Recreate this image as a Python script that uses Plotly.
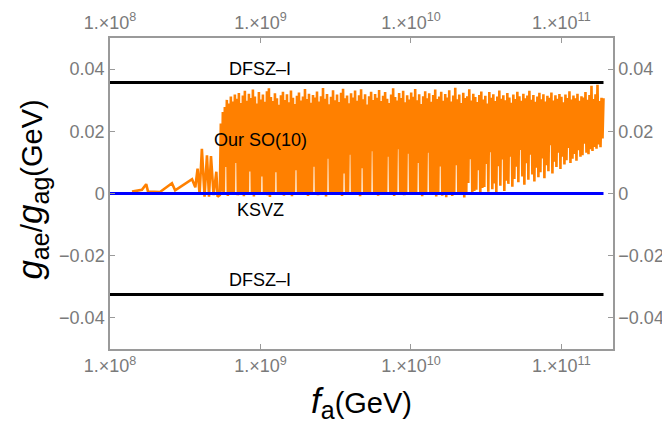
import numpy as np
import plotly.graph_objects as go

# ---------------- data ----------------
# sparse beginning of the scan
fa_early = [1.40e8, 1.63e8, 1.74e8, 1.79e8, 2.15e8, 2.58e8, 2.71e8, 3.51e8, 3.69e8,
            3.82e8, 3.94e8, 4.08e8, 4.25e8, 4.41e8, 4.55e8, 4.69e8, 4.88e8, 5.09e8, 5.19e8]
ratio_early = [0.0006, 0.0012, 0.0030, 0.0006, 0.0005, 0.0033, 0.0010, 0.0046, 0.0020,
               0.0080, -0.0003, 0.0144, -0.0010, 0.0123, -0.0010, 0.0120, -0.0005, 0.0070, -0.0010]

# dense part of the scan (alternating low / high samples)
fa_dense_start = 5.37e8
fa_dense_end = 1.905e11
ratio_dense_low = [
    -0.0005, 0.0006, 0.0002, 0.0085, -0.0008, 0.0001, 0.0003, -0.0004, 0.0098, -0.0006, 0.0002, 0.0001, -0.0009, 0.0005, 0.0000, 0.0071,
    0.0003, -0.0010, 0.0002, 0.0001, -0.0004, 0.0055, 0.0002, 0.0000, -0.0006, -0.0011, 0.0004, 0.0001, 0.0068, -0.0003, 0.0002, 0.0000,
    -0.0007, 0.0001, 0.0002, 0.0003, -0.0009, 0.0000, 0.0075, 0.0002, -0.0005, 0.0001, 0.0001, -0.0002, -0.0008, 0.0004, 0.0000, 0.0086,
    0.0002, -0.0006, 0.0001, 0.0000, 0.0003, -0.0010, 0.0112, 0.0000, -0.0002, -0.0004, 0.0002, 0.0001, 0.0001, -0.0008, 0.0064, 0.0003,
    0.0000, 0.0125, -0.0005, 0.0002, -0.0001, 0.0001, -0.0009, 0.0081, 0.0003, 0.0000, -0.0003, 0.0001, 0.0136, 0.0000, 0.0002, -0.0007,
    0.0002, 0.0001, 0.0001, -0.0004, 0.0118, 0.0003, 0.0000, -0.0008, 0.0000, 0.0142, 0.0002, -0.0002, -0.0006, 0.0001, 0.0128, 0.0004,
    -0.0005, 0.0002, 0.0000, 0.0098, 0.0002, -0.0009, 0.0001, 0.0001, 0.0131, -0.0004, 0.0003, -0.0001, -0.0010, 0.0001, 0.0087, -0.0007,
    0.0002, -0.0012, 0.0003, 0.0000, -0.0008, 0.0001, 0.0091, -0.0004, 0.0003, 0.0000, -0.0013, 0.0001, 0.0034, 0.0110, 0.0000, 0.0008,
    0.0012, 0.0075, -0.0002, 0.0018, 0.0021, 0.0095, 0.0006, 0.0133, 0.0014, 0.0032, 0.0003, 0.0088, 0.0025, 0.0109, 0.0008, 0.0041,
    0.0031, 0.0118, 0.0022, 0.0047, 0.0086, 0.0036, 0.0140, 0.0055, 0.0028, 0.0097, 0.0044, 0.0125, 0.0061, 0.0039, 0.0083, 0.0052,
    0.0068, 0.0113, 0.0049, 0.0091, 0.0072, 0.0155, 0.0064, 0.0102, 0.0085, 0.0131, 0.0079, 0.0118, 0.0093, 0.0107, 0.0146, 0.0098,
    0.0112, 0.0127, 0.0105, 0.0139, 0.0118, 0.0123, 0.0160, 0.0131, 0.0126, 0.0142, 0.0137, 0.0150, 0.0144, 0.0158, 0.0149, 0.0177,
]
ratio_dense_high = [
    0.0225, 0.0262, 0.0278, 0.0301, 0.0289, 0.0312, 0.0296, 0.0318, 0.0305, 0.0323, 0.0291, 0.0315, 0.0330, 0.0298, 0.0321, 0.0307,
    0.0334, 0.0312, 0.0289, 0.0326, 0.0302, 0.0318, 0.0295, 0.0329, 0.0338, 0.0310, 0.0297, 0.0322, 0.0306, 0.0285, 0.0316, 0.0327,
    0.0301, 0.0319, 0.0293, 0.0331, 0.0308, 0.0288, 0.0314, 0.0325, 0.0299, 0.0312, 0.0336, 0.0304, 0.0321, 0.0292, 0.0317, 0.0309,
    0.0328, 0.0296, 0.0313, 0.0339, 0.0305, 0.0320, 0.0287, 0.0311, 0.0332, 0.0300, 0.0318, 0.0294, 0.0324, 0.0337, 0.0306, 0.0315,
    0.0290, 0.0322, 0.0309, 0.0331, 0.0298, 0.0316, 0.0335, 0.0303, 0.0319, 0.0286, 0.0313, 0.0327, 0.0301, 0.0320, 0.0308, 0.0333,
    0.0297, 0.0314, 0.0326, 0.0305, 0.0291, 0.0318, 0.0338, 0.0310, 0.0299, 0.0323, 0.0307, 0.0330, 0.0293, 0.0316, 0.0302, 0.0325,
    0.0311, 0.0336, 0.0300, 0.0319, 0.0288, 0.0313, 0.0329, 0.0306, 0.0322, 0.0295, 0.0317, 0.0334, 0.0304, 0.0312, 0.0327, 0.0298,
    0.0320, 0.0309, 0.0332, 0.0296, 0.0315, 0.0340, 0.0303, 0.0318, 0.0291, 0.0324, 0.0307, 0.0313, 0.0335, 0.0299, 0.0321, 0.0310,
    0.0294, 0.0317, 0.0328, 0.0302, 0.0314, 0.0289, 0.0326, 0.0308, 0.0319, 0.0297, 0.0312, 0.0331, 0.0305, 0.0316, 0.0300, 0.0323,
    0.0309, 0.0292, 0.0318, 0.0304, 0.0327, 0.0313, 0.0298, 0.0321, 0.0306, 0.0315, 0.0330, 0.0301, 0.0317, 0.0295, 0.0312, 0.0324,
    0.0303, 0.0319, 0.0296, 0.0314, 0.0308, 0.0325, 0.0299, 0.0316, 0.0305, 0.0320, 0.0311, 0.0293, 0.0318, 0.0307, 0.0329, 0.0302,
    0.0315, 0.0306, 0.0321, 0.0298, 0.0313, 0.0309, 0.0326, 0.0301, 0.0317, 0.0346, 0.0304, 0.0319, 0.0350, 0.0297, 0.0308, 0.0306,
]

# reference lines
fa_line_start = 1.0e8
fa_line_end = 1.905e11
dfsz_upper = 0.0357
dfsz_lower = -0.0325
ksvz = 0.0

# axis ticks
x_tickvals = [1e8, 1e9, 1e10, 1e11]
x_ticktext = ["1.×10<sup>8</sup>", "1.×10<sup>9</sup>", "1.×10<sup>10</sup>", "1.×10<sup>11</sup>"]
y_tickvals = [-0.04, -0.02, 0.0, 0.02, 0.04]
y_ticktext = ["\u22120.04", "\u22120.02", "0", "0.02", "0.04"]

# ---------------- assemble ----------------
n_dense = 2 * len(ratio_dense_low)
fa_dense = np.geomspace(fa_dense_start, fa_dense_end, n_dense)
ratio_dense = []
for lo, hi in zip(ratio_dense_low, ratio_dense_high):
    ratio_dense.extend([lo, hi])

fa_all = list(fa_early) + list(fa_dense)
ratio_all = list(ratio_early) + ratio_dense

ORANGE = "rgb(255,128,0)"
GRAY = "#9a9a9a"
TICKGRAY = "#7a7a7a"
FONT = "Arial, Liberation Sans, sans-serif"

fig = go.Figure()
fig.add_trace(go.Scatter(x=fa_all, y=ratio_all, mode="lines",
                         line=dict(color=ORANGE, width=2.6), showlegend=False, hoverinfo="skip"))
fig.add_trace(go.Scatter(x=[fa_line_start, fa_line_end], y=[ksvz, ksvz], mode="lines",
                         line=dict(color="rgb(0,0,255)", width=3), showlegend=False))
fig.add_trace(go.Scatter(x=[fa_line_start, fa_line_end], y=[dfsz_upper, dfsz_upper], mode="lines",
                         line=dict(color="black", width=3), showlegend=False))
fig.add_trace(go.Scatter(x=[fa_line_start, fa_line_end], y=[dfsz_lower, dfsz_lower], mode="lines",
                         line=dict(color="black", width=3), showlegend=False))
# invisible companion so the mirrored top/right frame axes get drawn
fig.add_trace(go.Scatter(x=[fa_line_start, fa_line_end], y=[ksvz, ksvz], mode="lines",
                         xaxis="x2", yaxis="y2", opacity=0, line=dict(width=0),
                         showlegend=False, hoverinfo="skip"))

xr = [8, 11.343]
yr = [-0.05, 0.05]
common_x = dict(type="log", range=xr, tickvals=x_tickvals, ticktext=x_ticktext,
                ticks="inside", ticklen=5, tickwidth=1, tickcolor=GRAY, automargin=False,
                showline=True, linecolor=GRAY, linewidth=1.5, showgrid=False, zeroline=False,
                tickfont=dict(family=FONT, size=18, color=TICKGRAY))
common_y = dict(range=yr, tickvals=y_tickvals, ticktext=y_ticktext,
                ticks="inside", ticklen=5, tickwidth=1, tickcolor=GRAY, automargin=False,
                showline=True, linecolor=GRAY, linewidth=1.5, showgrid=False, zeroline=False,
                tickfont=dict(family=FONT, size=18, color=TICKGRAY))

# the page body has an 8px margin, so the figure is offset by 8px
fig.update_layout(
    width=662, height=417,
    margin=dict(l=102, r=57, t=30, b=76),
    paper_bgcolor="white", plot_bgcolor="white",
    xaxis=dict(**common_x, side="bottom"),
    xaxis2=dict(**common_x, side="top", overlaying="x", anchor="y"),
    yaxis=dict(**common_y, side="left"),
    yaxis2=dict(**common_y, side="right", overlaying="y", anchor="x"),
    font=dict(family=FONT, color="black"),
)

label_font = dict(family=FONT, size=18, color="black")
annos = [
    dict(x=9.0, y=0.0401, text="DFSZ\u2013I"),
    dict(x=9.0, y=0.0172, text="Our SO(10)"),
    dict(x=9.0, y=-0.0053, text="KSVZ"),
    dict(x=9.0, y=-0.0279, text="DFSZ\u2013I"),
]
for a in annos:
    fig.add_annotation(x=a["x"], y=a["y"], text=a["text"], xref="x", yref="y",
                       showarrow=False, font=label_font, xanchor="center", yanchor="middle")

ytitle = ("<span style='font-size:35px'><i>g</i></span><sub><span style='font-size:25px'>ae</span></sub>"
          "<span style='font-size:30px'>/</span>"
          "<span style='font-size:35px'><i>g</i></span><sub><span style='font-size:25px'>ag</span></sub>"
          "<span style='font-size:29px'>(GeV)</span>")
xtitle = ("<span style='font-size:35px'><i>f</i></span><sub><span style='font-size:25px'>a</span></sub>"
          "<span style='font-size:29px'>(GeV)</span>")
fig.add_annotation(x=-0.156, y=0.511, xref="paper", yref="paper", text=ytitle, textangle=-90,
                   showarrow=False, xanchor="center", yanchor="middle",
                   font=dict(family=FONT, size=29, color="black"))
fig.add_annotation(x=0.5, y=-0.172, xref="paper", yref="paper", text=xtitle,
                   showarrow=False, xanchor="center", yanchor="middle",
                   font=dict(family=FONT, size=29, color="black"))

fig.write_html("out.html")
